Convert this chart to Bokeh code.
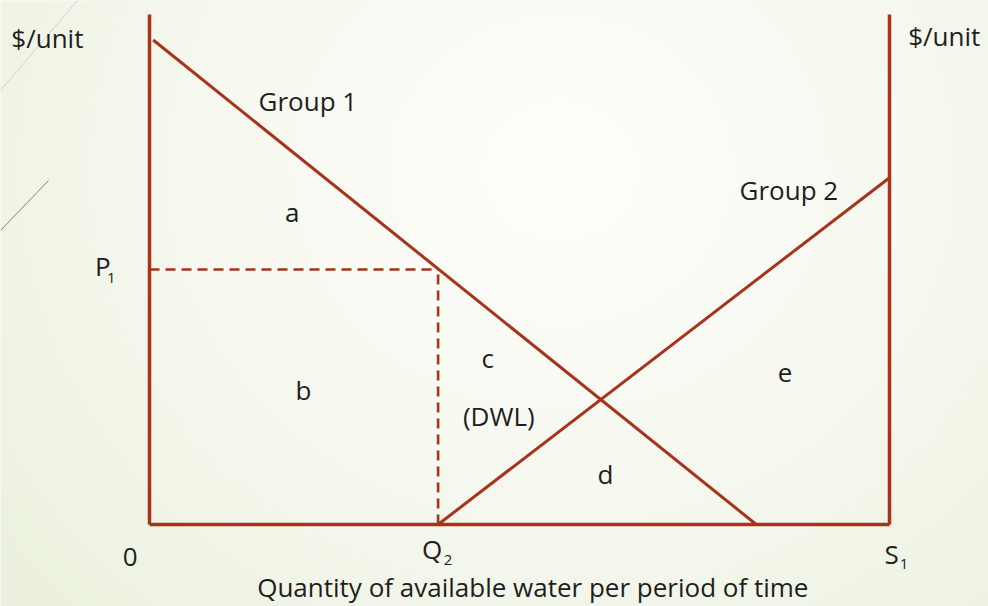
import numpy as np
from bokeh.plotting import figure
from bokeh.models import Range1d
from bokeh.core.properties import value
from bokeh.embed import file_html
from bokeh.resources import INLINE

# ---- diagram values (quantity of water on x, $/unit on y) ----
axis_top = 100          # height of both price axes
s1 = 100                # total available water S1
q2 = 39                 # allocation to group 1 at Q2
p1 = 50                 # price P1
group1_q = [0.5, 82]    # group 1 demand (read left to right)
group1_p = [95, 0]
group2_q = [39, 100]    # group 2 demand (measured from the right axis)
group2_p = [0, 68]

# area labels inside the diagram
area_labels = ["a", "b", "c", "(DWL)", "d", "e"]
area_q = [19.3, 20.8, 45.7, 47.2, 61.6, 85.9]
area_p = [61.3, 26.3, 32.7, 21.2, 10.0, 29.8]

W, H = 988, 606
# pixel frame of the diagram: x 149..889, y 524..14
X0, X1, Y0, Y1 = 149, 889, 524, 14
sx = (X1 - X0) / s1
sy = (Y0 - Y1) / axis_top


def px(x, y):
    """screen pixel -> data coordinates (used for decorations)"""
    return (x - X0) / sx, (Y0 - y) / sy


x_lo, y_lo = px(0, H)
x_hi, y_hi = px(W, 0)

p = figure(width=W, height=H, output_backend="svg", toolbar_location=None,
           x_range=Range1d(x_lo, x_hi), y_range=Range1d(y_lo, y_hi),
           min_border=0, outline_line_color=None)
p.axis.visible = False
p.grid.visible = False
p.background_fill_color = "#F4F6EE"
p.border_fill_color = "#F4F6EE"

# soft radial backdrop
ny, nx = 303, 494
yy, xx = np.mgrid[0:ny, 0:nx]
pxx = (xx + 0.5) * W / nx
pyy = H - (yy + 0.5) * H / ny
d = np.sqrt(((pxx - 560) / 1.0) ** 2 + ((pyy - 170) / 0.9) ** 2)
t = np.clip(d / 720, 0, 1) ** 1.3
c0 = np.array([254, 254, 251])
c1 = np.array([235, 241, 222])
col = c0[None, None, :] * (1 - t[..., None]) + c1[None, None, :] * t[..., None]
img = np.empty((ny, nx), dtype=np.uint32)
v = img.view(dtype=np.uint8).reshape((ny, nx, 4))
v[..., 0] = col[..., 0]
v[..., 1] = col[..., 1]
v[..., 2] = col[..., 2]
v[..., 3] = 255
p.image_rgba(image=[img], x=x_lo, y=y_lo, dw=x_hi - x_lo, dh=y_hi - y_lo)

# thin decorative strokes at the top-left
a0, b0 = px(0, 90)
a1, b1 = px(77, 0)
p.line([a0, a1], [b0, b1], line_color="#D2D2C8", line_width=1)
a0, b0 = px(0, 230)
a1, b1 = px(48, 180)
p.line([a0, a1], [b0, b1], line_color="#857F72", line_width=1)

RED = "#A8321A"
INK = "#1E1E1E"
FONT = value("Open Sans")

# frame: left axis, right axis, base
p.line([0, 0], [0, axis_top], line_color=RED, line_width=3.5)
p.line([s1, s1], [0, axis_top], line_color=RED, line_width=3.5)
p.line([0, s1], [0, 0], line_color=RED, line_width=3.5)

# demand curves
p.line(group1_q, group1_p, line_color=RED, line_width=3)
p.line(group2_q, group2_p, line_color=RED, line_width=3)

# P1 / Q2 guides
p.line([0, q2], [p1, p1], line_color=RED, line_width=2.6, line_dash="10 6")
p.line([q2, q2], [0, p1], line_color=RED, line_width=2.6, line_dash="10 6")

FS = "26px"
SUB = "15px"


def txt(x, y, s, size=FS, align="center"):
    p.text(x=[x], y=[y], text=[s], text_font=FONT, text_font_size=size,
           text_color=INK, text_align=align, text_baseline="middle")


txt(-13.8, 95.3, "$/unit")
txt(107.4, 95.7, "$/unit")
txt(21.4, 83.1, "Group 1")
txt(86.4, 65.5, "Group 2")
for s, x, y in zip(area_labels, area_q, area_p):
    txt(x, y, s)

# axis marks with subscripts
txt(-6.3, 50.6, "P")
txt(-5.75, 48.3, "1", size=SUB, align="left")
txt(-2.6, -6.3, "0")
txt(q2 - 0.8, -4.9, "Q")
txt(q2 + 0.75, -7.0, "2", size=SUB, align="left")
txt(s1 + 0.3, -5.8, "S")
txt(s1 + 1.4, -7.7, "1", size=SUB, align="left")

txt(51.8, -12.2, "Quantity of available water per period of time", size="26px")

open("out.html", "w").write(file_html(p, INLINE))
